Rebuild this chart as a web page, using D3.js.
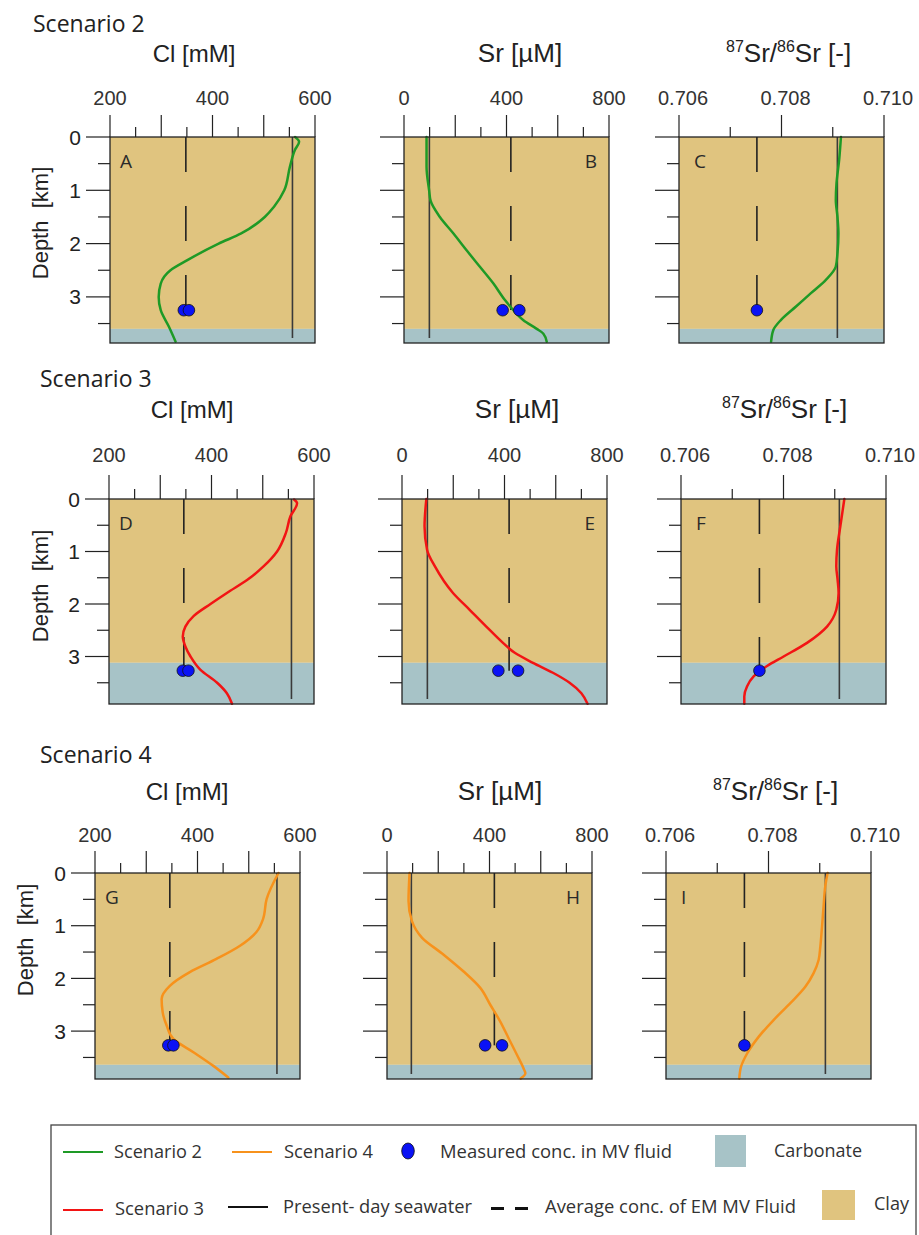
<!DOCTYPE html>
<html><head><meta charset="utf-8">
<script src="https://cdn.jsdelivr.net/npm/d3@7"></script>
<style>body{margin:0;background:#fff} text{white-space:pre}</style>
</head><body>
<svg id="c" width="919" height="1235" xmlns="http://www.w3.org/2000/svg"></svg>
<script>
// ---------------- DATA ----------------
const scenarios = ["Scenario 2", "Scenario 3", "Scenario 4"];
const panelLetters = [["A", "B", "C"], ["D", "E", "F"], ["G", "H", "I"]];
const depthTicks = [0, 1, 2, 3];
const depthMinorTicks = [0.5, 1.5, 2.5, 3.5];
const clTickLabels = [200, 400, 600];
const srTickLabels = [0, 400, 800];
const ratioTickLabels = [0.706, 0.708, 0.710];
const clDomain = [200, 600];
const srDomain = [0, 800];
const ratioDomain = [0.706, 0.710];
const carbonateTop = [3.6, 3.12, 3.64];          // km
const seawaterCl = [556, 556, 555];
const seawaterSr = [99, 99, 95];
const seawaterRatio = [0.70909, 0.70909, 0.70911];
const emCl = [348, 346, 346];
const emSr = [417, 418, 419];
const emRatio = [0.70752, 0.70753, 0.70753];
const measuredDepth = [3.25, 3.27, 3.27];
const measuredCl = [[344, 354], [344, 355], [343, 353]];
const measuredSr = [[385, 450], [376, 453], [383, 449]];
const measuredRatio = [[0.70752], [0.70753], [0.70753]];

// model profiles: [depth km, value]
const s2Cl = [[0,561],[0.09,569],[0.24,561],[0.56,551],[1.0,540],[1.31,520],[1.5,502],[1.81,456],[2.0,412],[2.31,351],[2.5,318],[2.75,299],[3.0,295],[3.25,299],[3.56,315],[3.84,328]];
const s2Sr = [[0,88],[0.56,88],[1.0,98],[1.2,104],[1.5,140],[1.81,193],[2.13,245],[2.44,297],[2.75,349],[3.06,394],[3.25,427],[3.44,466],[3.6,518],[3.69,544],[3.84,557]];
const s2Ratio = [[0,0.70916],[0.43,0.709125],[0.87,0.709073],[1.18,0.70906],[1.5,0.709092],[1.81,0.709111],[2.18,0.709092],[2.43,0.70906],[2.68,0.708866],[2.93,0.708574],[3.18,0.708283],[3.43,0.707991],[3.62,0.707841],[3.84,0.707797]];
const s3Cl = [[0.01,561],[0.08,567],[0.33,554],[0.65,545],[1.0,528],[1.28,502],[1.54,470],[1.79,430],[2.0,398],[2.23,365],[2.43,349],[2.62,344],[2.81,349],[3.0,359],[3.25,378],[3.5,411],[3.7,430],[3.9,440]];
const s3Sr = [[0,95],[0.52,88],[0.97,98],[1.28,128],[1.79,199],[2.11,264],[2.43,329],[2.74,394],[2.93,440],[3.12,511],[3.31,589],[3.5,654],[3.7,700],[3.9,724]];
const s3Ratio = [[0,0.709187],[0.52,0.709109],[0.97,0.709044],[1.28,0.70903],[1.54,0.709056],[1.79,0.709075],[2.11,0.70903],[2.43,0.708849],[2.74,0.708459],[3.0,0.708002],[3.18,0.707678],[3.38,0.707417],[3.57,0.707288],[3.76,0.707235],[3.9,0.707235]];
const s4Cl = [[0,558],[0.49,535],[0.87,528],[1.12,515],[1.38,483],[1.63,437],[1.88,385],[2.14,346],[2.39,330],[2.64,332],[2.9,340],[3.15,353],[3.4,392],[3.66,431],[3.88,460]];
const s4Sr = [[0,88],[0.53,84],[0.91,97],[1.23,137],[1.55,221],[1.87,299],[2.18,364],[2.5,403],[2.82,442],[3.14,475],[3.45,507],[3.71,533],[3.8,540],[3.9,522]];
const s4Ratio = [[0,0.709153],[0.25,0.709108],[0.63,0.709075],[1.02,0.709044],[1.4,0.709011],[1.65,0.708978],[1.9,0.70888],[2.16,0.708718],[2.47,0.708426],[2.79,0.708099],[3.11,0.707807],[3.43,0.70758],[3.68,0.707463],[3.9,0.70743]];

const legendItems1 = ["Scenario 2", "Scenario 4", "Measured conc. in MV fluid", "Carbonate"];
const legendItems2 = ["Scenario 3", "Present- day seawater", "Average conc. of EM MV Fluid", "Clay"];

// ---------------- STYLE / LAYOUT ----------------
const colors = { s: ["#1e9a26", "#f21414", "#f7921c"], clay: "#e0c47f", carb: "#a7c3c7", dot: "#0a12f5", ink: "#222" };
const rowTop = [137, 499, 873];
const rowHeight = [206, 205, 206];
const kmPx = [53.3, 52.5, 52.7];
const panelLeft = [[110, 404, 679], [109, 402, 681], [95, 387, 666]];
const panelW = 205;
const scenTitlePos = [[33, 32], [40, 387], [40, 763]];
const axisTitleBase = [62, 418, 800];
const axisTitleX = [[194, 520, 726], [192, 517, 722], [187, 500, 713]];
const tickLabelBase = [105, 461.7, 841.7];
const majorLen = [22, 24, 22];
const depthLabelPos = [[40, 223], [40, 586], [25, 940]];

const svg = d3.select("#c");
const profiles = [[s2Cl, s2Sr, s2Ratio], [s3Cl, s3Sr, s3Ratio], [s4Cl, s4Sr, s4Ratio]];
const domains = [clDomain, srDomain, ratioDomain];
const tickLabels = [clTickLabels, srTickLabels, ratioTickLabels];
const tickCounts = [8, 8, 4];
const seawater = [seawaterCl, seawaterSr, seawaterRatio];
const em = [emCl, emSr, emRatio];
const measured = [measuredCl, measuredSr, measuredRatio];
const fmt = [d3.format("d"), d3.format("d"), d3.format(".3f")];

for (let r = 0; r < 3; r++) {
  const top = rowTop[r], h = rowHeight[r];
  const depthMax = h / kmPx[r];
  svg.append("text").attr("x", scenTitlePos[r][0]).attr("y", scenTitlePos[r][1])
    .attr("font-family", "Open Sans").attr("font-size", 23).attr("fill", "#222").text(scenarios[r]);
  svg.append("text")
    .attr("transform", `translate(${depthLabelPos[r][0]},${depthLabelPos[r][1]}) rotate(-90)`)
    .attr("text-anchor", "middle").attr("dy", "0.35em")
    .attr("font-family", "Liberation Sans").attr("font-size", 22).attr("fill", "#222").text("Depth  [km]");

  for (let c = 0; c < 3; c++) {
    const left = panelLeft[r][c];
    const g = svg.append("g");
    const x = d3.scaleLinear().domain(domains[c]).range([left, left + panelW]);
    const y = d3.scaleLinear().domain([0, depthMax]).range([top, top + h]);

    g.append("rect").attr("x", left).attr("y", y(0)).attr("width", panelW)
      .attr("height", y(carbonateTop[r]) - y(0)).attr("fill", colors.clay);
    g.append("rect").attr("x", left).attr("y", y(carbonateTop[r])).attr("width", panelW)
      .attr("height", y(depthMax) - y(carbonateTop[r])).attr("fill", colors.carb);

    const tks = x.ticks(tickCounts[c]);
    tks.forEach((t, i) => {
      const major = i % 2 === 0;
      g.append("line").attr("x1", x(t)).attr("x2", x(t))
        .attr("y1", top).attr("y2", top - (major ? majorLen[r] : 10))
        .attr("stroke", colors.ink).attr("stroke-width", 1.2);
    });
    tickLabels[c].forEach(t => {
      g.append("text").attr("x", x(t) + (c === 2 ? 4 : 0)).attr("y", tickLabelBase[r])
        .attr("text-anchor", "middle").attr("font-family", "Liberation Sans").attr("font-size", 20)
        .attr("fill", "#333").text(fmt[c](t));
    });
    depthTicks.forEach(t => {
      g.append("line").attr("x1", left - 24).attr("x2", left).attr("y1", y(t)).attr("y2", y(t))
        .attr("stroke", colors.ink).attr("stroke-width", 1.2);
      if (c === 0) {
        g.append("text").attr("x", left - 29).attr("y", y(t)).attr("dy", "0.36em")
          .attr("text-anchor", "end").attr("font-family", "Liberation Sans").attr("font-size", 21)
          .attr("fill", "#222").text(t);
      }
    });
    depthMinorTicks.forEach(t => {
      g.append("line").attr("x1", left - 12).attr("x2", left).attr("y1", y(t)).attr("y2", y(t))
        .attr("stroke", colors.ink).attr("stroke-width", 1.2);
    });

    g.append("line").attr("x1", x(seawater[c][r])).attr("x2", x(seawater[c][r]))
      .attr("y1", y(0)).attr("y2", y(depthMax) - 5).attr("stroke", "#3a3a3a").attr("stroke-width", 1.6);
    g.append("line").attr("x1", x(em[c][r])).attr("x2", x(em[c][r]))
      .attr("y1", y(0)).attr("y2", y(measuredDepth[r]))
      .attr("stroke", "#222").attr("stroke-width", 1.6).attr("stroke-dasharray", "35,34");

    const line = d3.line().x(d => x(d[1])).y(d => y(d[0])).curve(d3.curveMonotoneY);
    g.append("path").datum(profiles[r][c]).attr("d", line).attr("fill", "none")
      .attr("stroke", colors.s[r]).attr("stroke-width", 2.5).attr("stroke-linecap", "round")
      .attr("stroke-linejoin", "round");

    measured[c][r].forEach(v => {
      g.append("circle").attr("cx", x(v)).attr("cy", y(measuredDepth[r])).attr("r", 5.8)
        .attr("fill", colors.dot).attr("stroke", "#111").attr("stroke-width", 0.8);
    });

    g.append("rect").attr("x", left).attr("y", top).attr("width", panelW).attr("height", h)
      .attr("fill", "none").attr("stroke", colors.ink).attr("stroke-width", 1.3);

    const letter = panelLetters[r][c];
    const lt = g.append("text").attr("y", top + 31).attr("font-family", "Open Sans")
      .attr("font-size", 19).attr("fill", "#2a2a2a").text(letter);
    if (c === 1) lt.attr("x", left + panelW - 12).attr("text-anchor", "end");
    else lt.attr("x", left + (c === 0 ? 10 : 15));

    if (c === 0) {
      svg.append("text").attr("x", axisTitleX[r][0]).attr("y", axisTitleBase[r]).attr("text-anchor", "middle")
        .attr("font-family", "Liberation Sans").attr("font-size", 24).attr("fill", "#222").text("Cl [mM]");
    } else if (c === 1) {
      svg.append("text").attr("x", axisTitleX[r][1]).attr("y", axisTitleBase[r]).attr("text-anchor", "middle")
        .attr("font-family", "Liberation Sans").attr("font-size", 26).attr("fill", "#222").text("Sr [\u00b5M]");
    } else {
      const t = svg.append("text").attr("x", axisTitleX[r][2]).attr("y", axisTitleBase[r])
        .attr("font-family", "Liberation Sans").attr("font-size", 26).attr("fill", "#222");
      t.append("tspan").attr("font-size", 16).attr("dy", -10).text("87");
      t.append("tspan").attr("dy", 10).text("Sr/");
      t.append("tspan").attr("font-size", 16).attr("dy", -10).text("86");
      t.append("tspan").attr("dy", 10).text("Sr [-]");
    }
  }
}

// ---------------- LEGEND ----------------
const lg = svg.append("g");
lg.append("rect").attr("x", 51).attr("y", 1125).attr("width", 865).attr("height", 130)
  .attr("fill", "#fff").attr("stroke", "#444").attr("stroke-width", 1.3);
const lf = (t, w) => t.attr("font-family", "Open Sans").attr("font-size", 19).attr("fill", "#333")
  .attr("textLength", w).attr("lengthAdjust", "spacingAndGlyphs");
lg.append("line").attr("x1", 63).attr("x2", 103).attr("y1", 1152).attr("y2", 1152).attr("stroke", colors.s[0]).attr("stroke-width", 2.2);
lf(lg.append("text").attr("x", 114).attr("y", 1158).text(legendItems1[0]), 88);
lg.append("line").attr("x1", 232).attr("x2", 272).attr("y1", 1152).attr("y2", 1152).attr("stroke", colors.s[2]).attr("stroke-width", 2.2);
lf(lg.append("text").attr("x", 284).attr("y", 1158).text(legendItems1[1]), 89);
lg.append("ellipse").attr("cx", 408).attr("cy", 1151).attr("rx", 6.3).attr("ry", 8).attr("fill", colors.dot).attr("stroke", "#111").attr("stroke-width", 0.8);
lf(lg.append("text").attr("x", 440).attr("y", 1158).text(legendItems1[2]), 232);
lg.append("rect").attr("x", 715).attr("y", 1135).attr("width", 31).attr("height", 32).attr("fill", colors.carb);
lf(lg.append("text").attr("x", 774).attr("y", 1157).text(legendItems1[3]), 88);
lg.append("line").attr("x1", 63).attr("x2", 103).attr("y1", 1210).attr("y2", 1210).attr("stroke", colors.s[1]).attr("stroke-width", 2.2);
lf(lg.append("text").attr("x", 115).attr("y", 1215).text(legendItems2[0]), 89);
lg.append("line").attr("x1", 228).attr("x2", 268).attr("y1", 1207).attr("y2", 1207).attr("stroke", "#111").attr("stroke-width", 2);
lf(lg.append("text").attr("x", 283).attr("y", 1213).text(legendItems2[1]), 189);
lg.append("line").attr("x1", 491).attr("x2", 528).attr("y1", 1208.5).attr("y2", 1208.5).attr("stroke", "#111").attr("stroke-width", 3).attr("stroke-dasharray", "13,11");
lf(lg.append("text").attr("x", 545).attr("y", 1213).text(legendItems2[2]), 251);
lg.append("rect").attr("x", 822).attr("y", 1190).attr("width", 33).attr("height", 30).attr("fill", colors.clay);
lf(lg.append("text").attr("x", 874).attr("y", 1210).text(legendItems2[3]), 35);
</script>
</body></html>
